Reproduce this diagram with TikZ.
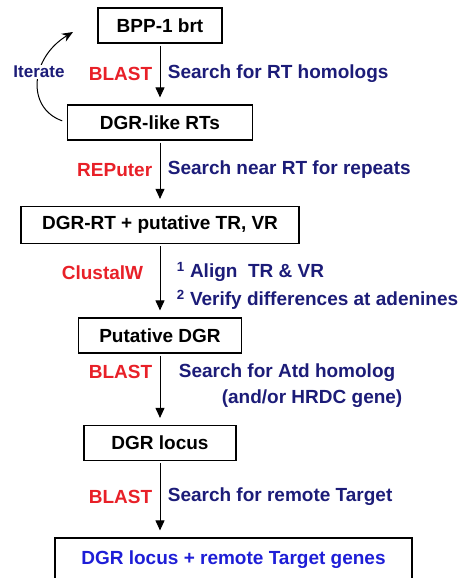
\documentclass[tikz,border=0pt]{standalone}
\usepackage{fontspec}
\setmainfont{Liberation Sans}
\usetikzlibrary{arrows.meta}

\definecolor{toolred}{RGB}{232,32,40}
\definecolor{tasknavy}{RGB}{28,28,120}
\definecolor{resultblue}{RGB}{30,30,215}

\begin{document}
\begin{tikzpicture}[x=1pt,y=-1pt,>={Triangle[length=10pt,width=9pt]},
    shorten >=7pt,shorten <=2pt,
    font=\bfseries\fontsize{19}{22}\selectfont,
    box/.style={draw,line width=1.2pt,minimum height=35pt,inner sep=0pt},
    tool/.style={text=toolred,left=4pt},
    task/.style={text=tasknavy,right=4pt}]
  \useasboundingbox (0,0) rectangle (466,578);

  \node[box,minimum width=124pt] (brt) at (160,25.5) {BPP-1 brt};
  \node[box,minimum width=185pt] (rts) at (160,122.5) {DGR-like RTs};
  \node[box,minimum width=278pt,minimum height=37pt] (cand) at (160,225) {DGR-RT + putative TR, VR};
  \node[box,minimum width=163pt] (dgr) at (160,335.5) {Putative DGR};
  \node[box,minimum width=152pt] (locus) at (160,443) {DGR locus};
  \node[box,minimum width=357pt,minimum height=44pt,text=resultblue] (genes) at (233.5,560)
    {DGR locus + remote Target genes};

  \path[->,line width=1pt]
  (brt) edge node[tool] {BLAST} node[task] {Search for RT homologs} (rts)
  (rts) edge node[tool,pos=0.45] {REPuter} node[task,pos=0.45] {Search near RT for repeats} (cand)
  (cand) edge node[tool,pos=0.39,left=9pt] {ClustalW}
              node[task,pos=0.38,right=9pt] {\textsuperscript{1} Align\ \ TR \& VR}
              node[task,pos=0.76,right=9pt] {\textsuperscript{2} Verify differences at adenines} (dgr)
  (dgr) edge node[tool,pos=0.26] {BLAST} node[task,pos=0.26,right=11pt] {Search for Atd homolog}
             node[task,pos=0.63,right=54pt] {(and/or HRDC gene)} (locus)
  (locus) edge node[tool,pos=0.47] {BLAST} node[task,pos=0.47] {Search for remote Target} (locus |- genes.north)
  ;

  % loop back to the start
  \coordinate (again) at (73,32);
  \draw[-{Stealth[length=11pt,width=9pt]},line width=1pt,shorten >=0pt,shorten <=5pt]
    (rts.west) .. controls (26,108) and (30,58) .. (again);
  \node[fill=white,text=tasknavy,inner sep=1pt,font=\bfseries\fontsize{17}{20}\selectfont]
    (iter) at (39,72) {Iterate};
\end{tikzpicture}
\end{document}
